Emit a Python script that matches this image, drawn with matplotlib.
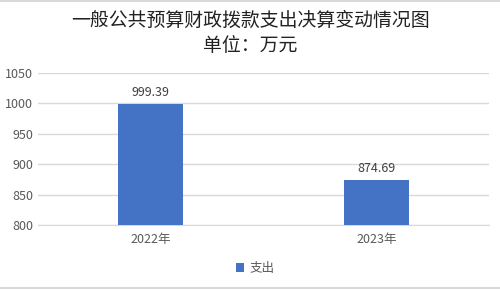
import matplotlib
matplotlib.use("Agg")
import matplotlib.pyplot as plt
from matplotlib.lines import Line2D

plt.rcParams['font.family'] = ['Noto Sans CJK SC', 'DejaVu Sans']

categories = ['2022年', '2023年']
values = [999.39, 874.69]
labels = ['999.39', '874.69']
series_name = '支出'
yticks = [800, 850, 900, 950, 1000, 1050]

fig = plt.figure(figsize=(5, 2.9), dpi=100)
ax = fig.add_axes([0.076, 0.224, 0.902, 0.524])

x = range(len(categories))
bars = ax.bar(x, values, width=0.29, color='#4472C4', label=series_name, zorder=3)
for xi, v, lab in zip(x, values, labels):
    ax.text(xi, v + 8, lab, ha='center', va='bottom', fontsize=9, color='#404040')

ax.set_ylim(800, 1050)
ax.set_xlim(-0.5, 1.5)
ax.set_yticks(yticks)
ax.set_xticks(list(x))
ax.set_xticklabels(categories)
ax.tick_params(axis='both', length=0, labelsize=9, colors='#595959')
ax.tick_params(axis='x', pad=6)
ax.grid(axis='y', color='#D9D9D9', linewidth=1, zorder=0)
for s in ['top', 'right', 'left']:
    ax.spines[s].set_visible(False)
ax.spines['bottom'].set_color('#D9D9D9')

fig.text(0.5, 0.928, '一般公共预算财政拨款支出决算变动情况图', ha='center', va='center',
         fontsize=13.6, color='#222222')
fig.text(0.5, 0.843, '单位：万元', ha='center', va='center', fontsize=13.6, color='#222222')

fig.legend(handles=[bars], labels=[series_name], loc='center', bbox_to_anchor=(0.51, 0.075),
           frameon=False, fontsize=9, handlelength=0.7, handleheight=0.7, handletextpad=0.4,
           labelcolor='#595959')

fig.lines.append(Line2D([0, 1], [0.998, 0.998], transform=fig.transFigure, color='#D9D9D9', linewidth=1.5))
fig.lines.append(Line2D([0, 1], [0.008, 0.008], transform=fig.transFigure, color='#D9D9D9', linewidth=1.5))

fig.savefig('out.png', dpi=100)
